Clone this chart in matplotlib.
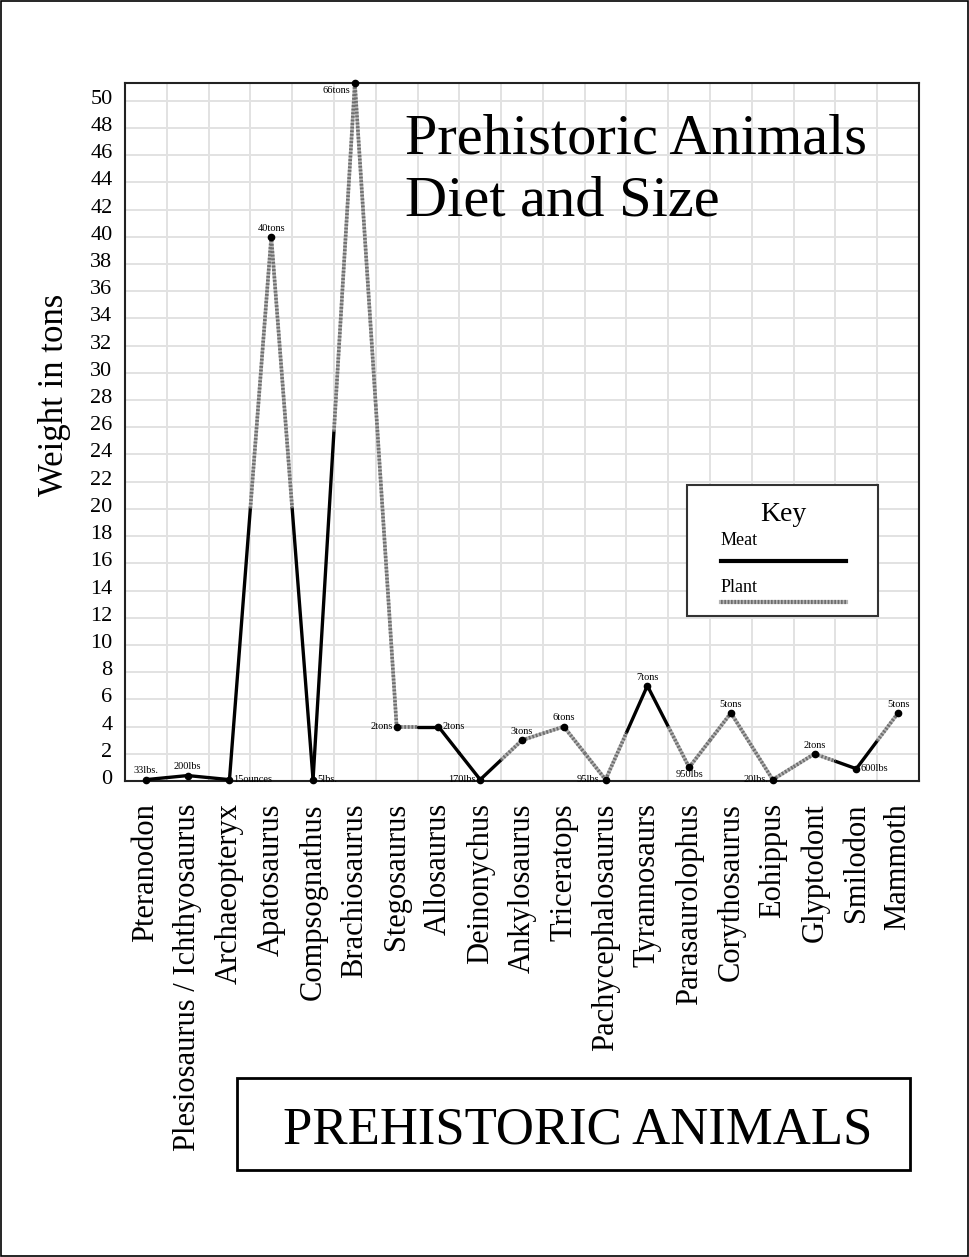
import numpy as np
import matplotlib
matplotlib.use("Agg")
import matplotlib.pyplot as plt
from matplotlib.patches import Rectangle
from matplotlib.lines import Line2D
from matplotlib.transforms import ScaledTranslation

plt.rcParams['font.family'] = ['Liberation Serif', 'DejaVu Serif']

# data
animals = ["Pteranodon", "Plesiosaurus / Ichthyosaurus", "Archaeopteryx", "Apatosaurus",
           "Compsognathus", "Brachiosaurus", "Stegosaurus", "Allosaurus", "Deinonychus",
           "Ankylosaurus", "Triceratops", "Pachycephalosaurus", "Tyrannosaurs",
           "Parasaurolophus", "Corythosaurus", "Eohippus", "Glyptodont", "Smilodon", "Mammoth"]
# Brachiosaurus (66 tons) is drawn at the top edge of the chart
weight_tons = [0.1, 0.4, 0.1, 40, 0.1, 51.3, 4, 4, 0.1, 3, 4, 0.1, 7, 1, 5, 0.1, 2, 0.9, 5]
diet = ["meat", "meat", "meat", "plant", "meat", "plant", "plant", "meat", "meat", "plant",
        "plant", "plant", "meat", "plant", "plant", "plant", "plant", "meat", "plant"]
weight_text = ["33lbs.", "200lbs", "15ounces", "40tons", "5lbs.", "66tons", "2tons", "2tons",
               "170lbs", "3tons", "6tons", "95lbs.", "7tons", "950lbs", "5tons", "20lbs.",
               "2tons", "600lbs", "5tons"]
label_side = ["above", "above", "right", "above", "right", "lowleft", "left", "right", "left",
              "above", "above", "left", "above", "below", "above", "left", "above", "right",
              "above"]
y_ticks = list(range(0, 51, 2))

W, H = 970, 1257
fig = plt.figure(figsize=(W / 100, H / 100), dpi=100)

def fx(px):
    return px / W

def fy(py):
    return 1 - py / H

ax = fig.add_axes([fx(125), fy(781), fx(919) - fx(125), fy(83) - fy(781)])

x = np.arange(len(animals)) + 0.5
y = np.array(weight_tons)

meat_style = dict(color="black", lw=2.4, solid_capstyle="round", zorder=3)
plant_base = dict(color="#b4b4b4", lw=2.6, solid_capstyle="butt", zorder=3)
plant_dash = dict(color="#6e6e6e", lw=2.6, dashes=(0.5, 0.5), zorder=3.1)

def draw_piece(xs, ys, kind):
    if kind == "meat":
        ax.plot(xs, ys, **meat_style)
    else:
        ax.plot(xs, ys, **plant_base)
        ax.plot(xs, ys, **plant_dash)

# each segment: first half in the colour of the left animal, second half right animal
for i in range(len(x) - 1):
    xm = (x[i] + x[i + 1]) / 2
    ym = (y[i] + y[i + 1]) / 2
    draw_piece([x[i], xm], [y[i], ym], diet[i])
    draw_piece([xm, x[i + 1]], [ym, y[i + 1]], diet[i + 1])

ax.plot(x, y, "o", color="black", ms=4.5, zorder=5, clip_on=False)

offsets = {
    "above": ((0, 3), "center", "bottom"),
    "below": ((0, -2), "center", "top"),
    "left": ((-3, 0), "right", "center"),
    "right": ((3, 0), "left", "center"),
    "lowleft": ((-3, -2), "right", "top"),
}
for xi, yi, t, side in zip(x, y, weight_text, label_side):
    off, ha, va = offsets[side]
    ax.annotate(t, (xi, yi), xytext=off, textcoords="offset points",
                ha=ha, va=va, fontsize=7.5, zorder=6)

ax.set_xlim(0, len(animals))
ax.set_ylim(0, 51.3)
ax.set_xticks(x)
ax.set_xticklabels(animals, rotation=90, fontsize=22)
ax.set_xticks(np.arange(0, len(animals) + 1), minor=True)
ax.set_yticks(y_ticks)
ax.set_yticklabels([str(v) for v in y_ticks], fontsize=16)
ax.tick_params(axis="both", which="both", length=0)
ax.tick_params(axis="x", pad=16)
ax.tick_params(axis="y", pad=9)
# y labels sit a little above their grid lines in the original
shift = ScaledTranslation(0, 4 / 100, fig.dpi_scale_trans)
for lbl in ax.get_yticklabels():
    lbl.set_transform(lbl.get_transform() + shift)
ax.grid(True, axis="y", which="major", color="#e2e2e2", lw=1.4, zorder=0)
ax.grid(True, axis="x", which="minor", color="#e2e2e2", lw=1.4, zorder=0)
ax.set_axisbelow(True)
for s in ax.spines.values():
    s.set_linewidth(1.5)
    s.set_color("#222222")

fig.text(fx(55), fy(395), "Weight in tons", rotation=90, fontsize=25,
         ha="center", va="center")

# title inside the plot
fig.text(fx(405), fy(153), "Prehistoric Animals", fontsize=42, ha="left", va="baseline")
fig.text(fx(405), fy(215), "Diet and Size", fontsize=42, ha="left", va="baseline")

# key box
fig.add_artist(Rectangle((fx(687), fy(616)), fx(878) - fx(687), fy(485) - fy(616),
                         transform=fig.transFigure, facecolor="white",
                         edgecolor="#333333", lw=1.5, zorder=10))
fig.text(fx(783), fy(521), "Key", fontsize=20, ha="center", va="baseline", zorder=11)
fig.text(fx(721), fy(545), "Meat", fontsize=13, ha="left", va="baseline", zorder=11)
fig.text(fx(721), fy(592), "Plant", fontsize=13, ha="left", va="baseline", zorder=11)
fig.add_artist(Line2D([fx(721), fx(846)], [fy(561), fy(561)], transform=fig.transFigure,
                      color="black", lw=3, zorder=11))
fig.add_artist(Line2D([fx(721), fx(846)], [fy(602), fy(602)], transform=fig.transFigure,
                      color="#b4b4b4", lw=3, zorder=11))
fig.add_artist(Line2D([fx(721), fx(846)], [fy(602), fy(602)], transform=fig.transFigure,
                      color="#6e6e6e", lw=3, dashes=(0.4, 0.4), zorder=11.1))

# bottom banner
fig.add_artist(Rectangle((fx(237), fy(1170)), fx(910) - fx(237), fy(1078) - fy(1170),
                         transform=fig.transFigure, facecolor="white",
                         edgecolor="black", lw=2, zorder=10))
fig.text(fx(578), fy(1144), "PREHISTORIC ANIMALS", fontsize=38, ha="center",
         va="baseline", zorder=11)

# page border
fig.add_artist(Rectangle((0.001, 0.001), 0.997, 0.998, transform=fig.transFigure,
                         fill=False, edgecolor="black", lw=1.2))

fig.savefig("out.png", dpi=100)
